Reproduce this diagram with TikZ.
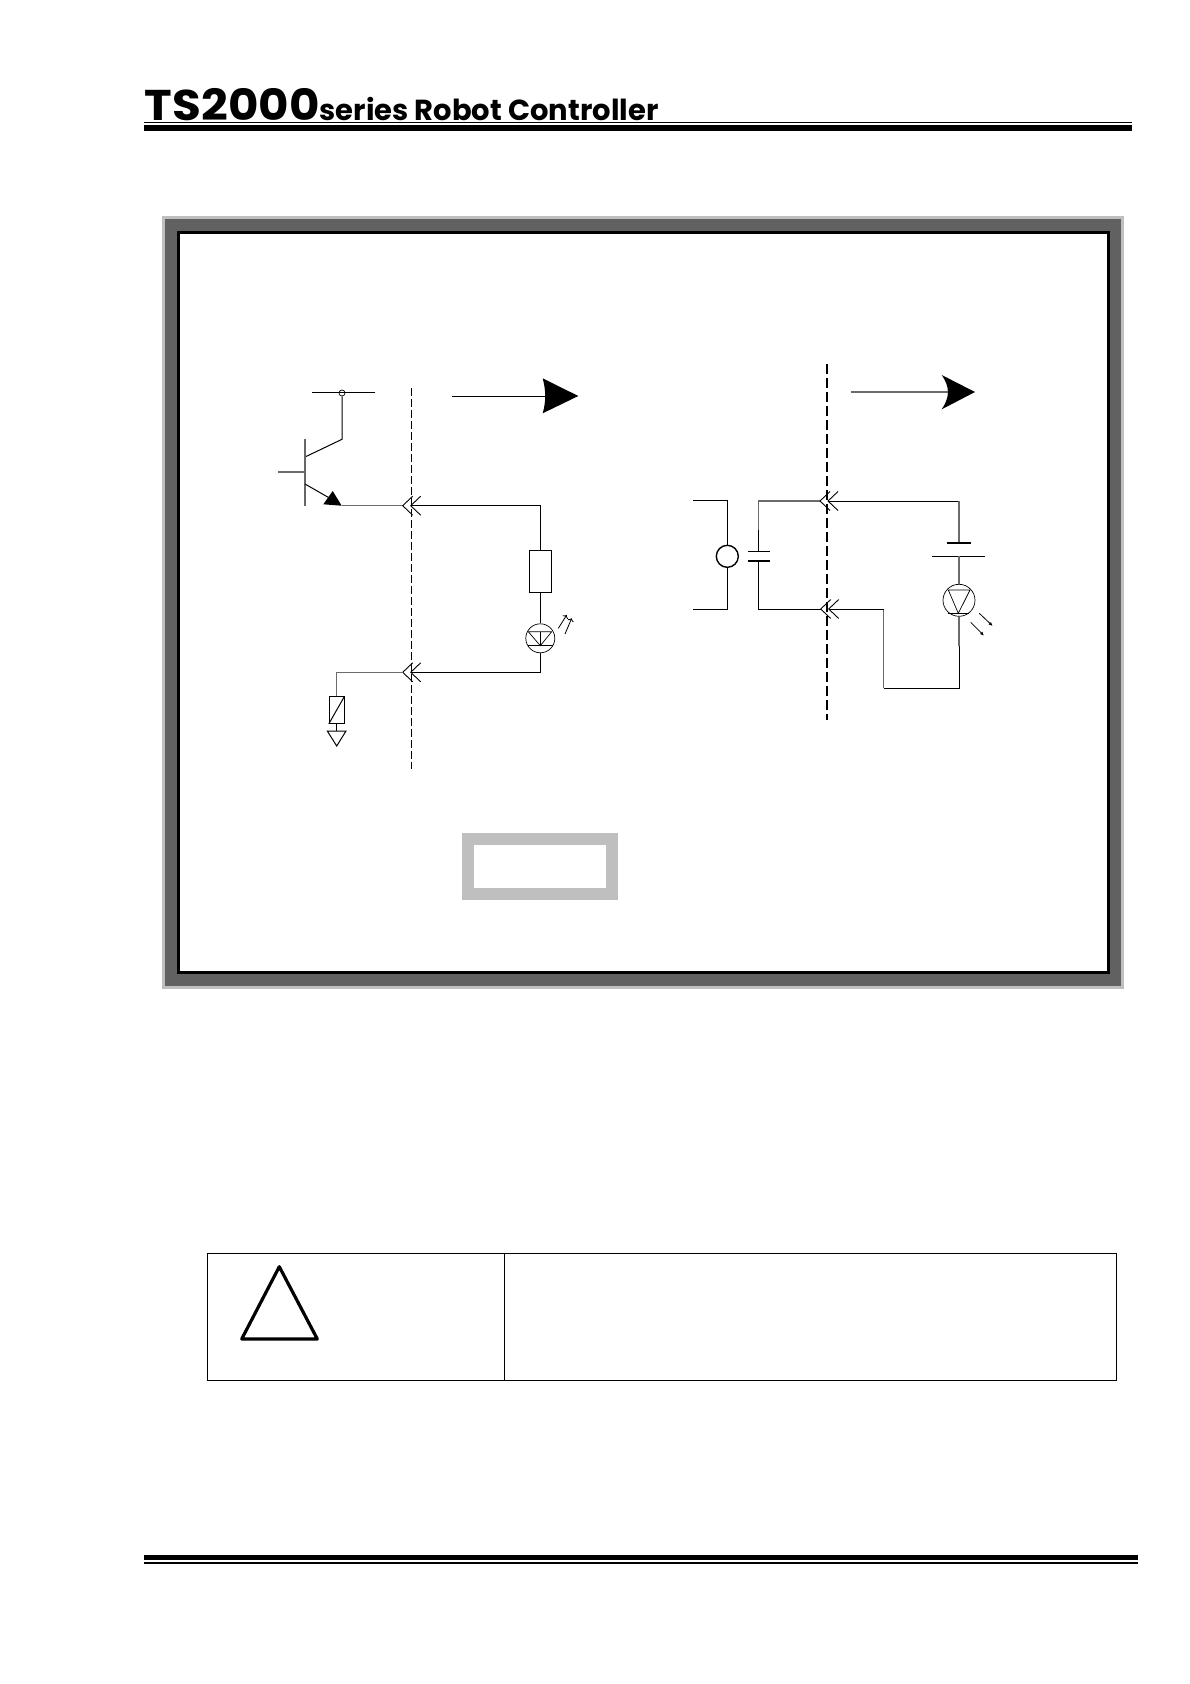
\documentclass[tikz,border=0pt]{standalone}
\usepackage{fontspec}
\setmainfont{Poppins}
\usetikzlibrary{positioning}
\usetikzlibrary{calc}
\usetikzlibrary{arrows.meta}
\tikzset{
    wire/.style={line width=1pt},
    greywire/.style={line width=1.1pt, color=black!58},
    thickbar/.style={line width=2pt},
    box/.style={draw, line width=1pt, rectangle, inner sep=0pt},
    ledring/.style={draw, line width=0.7pt, circle, inner sep=0pt},
    plug/.pic={
        \draw[line width=0.9pt] (10,-9.5) -- (0,0) -- (10,9.5);
        \draw[line width=0.9pt] (18,-9.5) -- (8,0) -- (18,9.5);
    }
}
\begin{document}
\begin{tikzpicture}[x=1pt,y=-1pt]
    \useasboundingbox[fill=white] (0,0) rectangle (1190,1684);

    % Header
    \node [anchor=base west, inner sep=0pt, font=\bfseries, xscale=4.68, yscale=4.3] (titlemain) at (144,120.5) {TS2000};
    \node [anchor=base west, inner sep=0pt, font=\bfseries, scale=2.9] (titlesub) at (319,120.5) {series Robot Controller};
    \fill (144,122) rectangle (1132,123.2);
    \fill (144,125.4) rectangle (1132,130.7);

    % Panel
    \fill[black!25] (162,216) rectangle (1124,989);
    \fill[black!62] (165,219) rectangle (1121,986);
    \fill[white] (178,232) rectangle (1108,973);
    \draw[line width=3pt] (178.5,232.5) rectangle (1108,972.5);

    % Left circuit
    \draw[line width=1pt, dashed, dash pattern=on 8pt off 3pt] (411.3,387.7) -- (411.3,769.3);
    \coordinate (busleft) at (311.7,392.3);
    \coordinate (busright) at (375,392.3);
    \node [ledring, minimum size=6pt] (busdot) at (342,393) {};
    \coordinate (collector) at (342,439.3);
    \coordinate (basetop) at (305,439.3);
    \coordinate (basebottom) at (305,506);
    \coordinate (basein) at (278.3,472);
    \coordinate (emitter) at (342,505.7);
    \coordinate (plugA) at (402.7,505.7);
    \coordinate (plugB) at (402.7,672.3);
    \coordinate (cornerA) at (540.3,505.7);
    \coordinate (cornerB) at (540.3,672.3);
    \coordinate (cornerC) at (336.7,672.3);
    \node [box, minimum width=22pt, minimum height=41.7pt] (res1) at (540.7,571.2) {};
    \node [ledring, minimum size=29pt] (led1) at (540.3,638.3) {};
    \node [box, minimum width=14.7pt, minimum height=26.6pt] (res2) at (336.7,710) {};
    \coordinate (gnd) at (336.7,731);

    \draw[wire] (busleft) -- (busright);
    \draw[wire] (busdot) -- (collector) -- (305,457);
    \draw[line width=1.3pt, black!60] (basetop) -- (basebottom);
    \draw[greywire] (basein) -- (305,472);
    \draw[wire] (305,484) -- (332,499.5);
    \fill (323.3,504.3) -- (332.7,491) -- (341.7,505.7) -- cycle;
    \draw[greywire] (emitter) -- (plugA);
    \pic at (plugA) {plug};
    \draw[wire] (410.7,505.7) -- (cornerA) -- (res1.north -| cornerA);
    \draw[wire] (res1.south -| cornerA) -- (led1.north);
    \draw[wire] (led1.south) -- (cornerB) -- (410.7,672.3);
    \pic at (plugB) {plug};
    \draw[greywire] (plugB) -- (cornerC) -- (res2.north);
    \draw[wire] (res2.south west) -- (res2.north east);
    \draw[wire] (res2.south) -- (gnd);
    \draw[wire] (327.3,731) -- (346,731) -- (336.7,746) -- cycle;
    \draw[line width=0.7pt] (528.3,631.7) -- (551.7,631.7) -- (540.3,645.7) -- cycle;
    \draw[line width=0.7pt] (528.3,645.7) -- (552.7,645.7);
    \draw[line width=0.7pt] (540.3,631.7) -- (540.3,645.7);
    \draw[line width=0.8pt, -{To[length=3pt]}] (558.3,628.3) -- (566.7,615);
    \draw[line width=0.8pt, -{To[length=3pt]}] (565,634) -- (571.7,618.3);
    \coordinate (arrowAstart) at (451.7,396);
    \coordinate (arrowAend) at (546.7,396);
    \draw[wire] (arrowAstart) -- (arrowAend);
    \fill (542.7,378.3) .. controls (546,390) and (546,402) .. (542.7,413.3) -- (578.3,396) -- cycle;

    % Right circuit
    \draw[line width=2.4pt, dash pattern=on 10pt off 4pt] (827,364) -- (827,720);
    \coordinate (coilAin) at (693.3,500.3);
    \coordinate (coilAtop) at (727.3,500.3);
    \coordinate (coilBin) at (693.3,609);
    \coordinate (coilBbottom) at (727.3,609);
    \node [draw, line width=1.4pt, circle, inner sep=0pt, minimum size=22pt] (coil) at (727.3,556.3) {};
    \coordinate (capA) at (758.3,501);
    \coordinate (capB) at (758.3,609);
    \coordinate (plugC) at (820,501);
    \coordinate (plugD) at (820.7,609);
    \coordinate (cornerD) at (959,501);
    \coordinate (cellA) at (959,543.3);
    \coordinate (cellB) at (959,556.3);
    \node [ledring, minimum size=32pt] (led2) at (959,600.3) {};
    \coordinate (cornerE) at (959,688.3);
    \coordinate (cornerF) at (883.7,688.3);
    \coordinate (cornerG) at (883.7,609);

    \draw[wire] (coilAin) -- (coilAtop) -- (coil.north);
    \draw[wire] (coil.south) -- (coilBbottom) -- (coilBin);
    \draw[line width=1.6pt] (727.3,530) -- (coil.north);
    \draw[line width=1.6pt] (coil.south) -- (727.3,583);
    \draw[line width=1.3pt] (748.3,551.7) -- (770,551.7);
    \draw[line width=1.3pt] (748.3,561) -- (770,561);
    \draw[greywire] (plugC) -- (capA) -- (758.3,530);
    \draw[line width=1.4pt] (758.3,530) -- (758.3,551.7);
    \draw[line width=1.4pt] (758.3,561) -- (758.3,583);
    \draw[wire] (758.3,583) -- (capB) -- (plugD);
    \pic at (plugC) {plug};
    \pic at (plugD) {plug};
    \draw[wire] (828.3,501) -- (cornerD);
    \draw[greywire] (cornerD) -- (cellA);
    \draw[thickbar] (946.7,543.3) -- (970.7,543.3);
    \draw[wire] (932.3,556.3) -- (985,556.3);
    \draw[greywire] (cellB) -- (led2.north);
    \draw[greywire] (led2.south) -- (959,645.7);
    \draw[wire] (959,645.7) -- (cornerE) -- (cornerF);
    \draw[greywire] (cornerF) -- (cornerG);
    \draw[wire] (cornerG) -- (828.7,609);
    \draw[line width=0.7pt] (948.3,590) -- (970,590) -- (958.3,613.3) -- cycle;
    \draw[line width=0.7pt] (947.7,613.3) -- (969.3,613.3);
    \draw[line width=0.8pt, -{Latex[length=4pt,width=3.5pt]}] (979.3,613.3) -- (992.7,626);
    \draw[line width=0.8pt, -{Latex[length=4pt,width=3.5pt]}] (970.7,622.3) -- (984,635.7);
    \coordinate (arrowBstart) at (850.7,392);
    \coordinate (arrowBend) at (948,392);
    \draw[greywire] (arrowBstart) -- (arrowBend);
    \fill (941.7,375) .. controls (950,387) and (950,397) .. (941.7,409.3) -- (975,392) -- cycle;

    % Grey box
    \fill[black!25] (462,833) rectangle (618,900);
    \fill[white] (474,845) rectangle (606,888);

    % Warning table
    \draw[line width=1pt] (207.3,1253.7) rectangle (1116.5,1380.3);
    \draw[line width=1pt] (504.3,1253.7) -- (504.3,1380.3);
    \draw[line width=3.2pt, line join=round] (279.3,1266.7) -- (317.3,1339) -- (241.7,1339) -- cycle;

    % Footer
    \fill (144,1555) rectangle (1137.5,1560);
    \fill (144,1562) rectangle (1137.5,1564);
\end{tikzpicture}
\end{document}
